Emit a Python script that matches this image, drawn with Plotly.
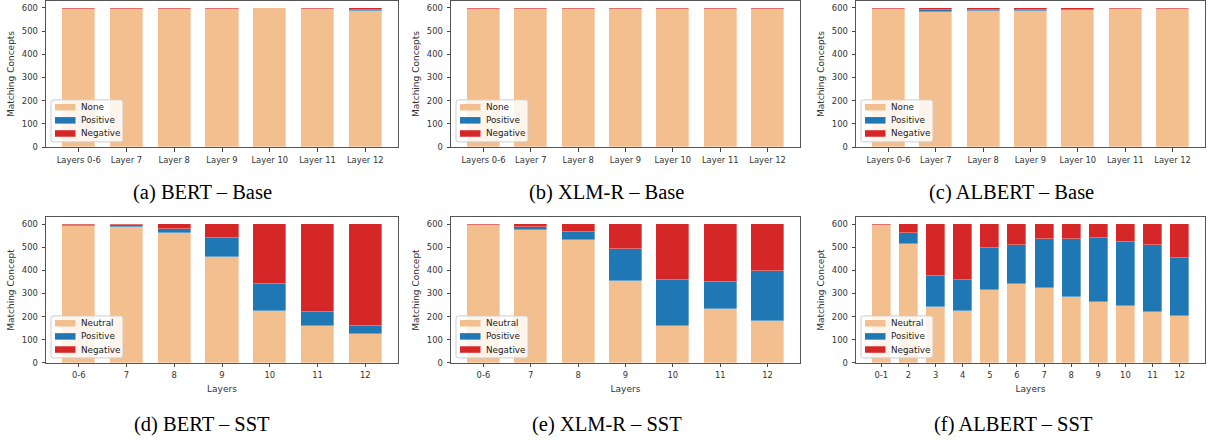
import plotly.graph_objects as go

# ---------------- data ----------------
base_layers = ["Layers 0-6", "Layer 7", "Layer 8", "Layer 9", "Layer 10", "Layer 11", "Layer 12"]
sst_layers_bx = ["0-6", "7", "8", "9", "10", "11", "12"]
sst_layers_albert = ["0-1", "2", "3", "4", "5", "6", "7", "8", "9", "10", "11", "12"]

bert_base_none = [594, 597, 597, 597, 600, 594, 589]
bert_base_pos = [3, 0, 0, 0, 0, 3, 3]
bert_base_neg = [3, 3, 3, 3, 0, 3, 8]

xlmr_base_none = [594, 597, 597, 597, 597, 597, 594]
xlmr_base_pos = [3, 0, 0, 0, 0, 0, 3]
xlmr_base_neg = [3, 3, 3, 3, 3, 3, 3]

albert_base_none = [597, 583, 586, 586, 590, 595, 594]
albert_base_pos = [0, 8, 6, 4, 3, 2, 3]
albert_base_neg = [3, 9, 8, 10, 7, 3, 3]

bert_sst_neu = [593, 586, 559, 455, 222, 158, 124]
bert_sst_pos = [4, 8, 21, 84, 117, 59, 36]
bert_sst_neg = [3, 6, 20, 61, 261, 383, 440]

xlmr_sst_neu = [597, 574, 532, 355, 158, 231, 181]
xlmr_sst_pos = [0, 12, 34, 138, 198, 120, 217]
xlmr_sst_neg = [3, 14, 34, 107, 244, 249, 202]

albert_sst_neu = [597, 512, 239, 224, 316, 339, 321, 285, 262, 244, 217, 201]
albert_sst_pos = [0, 47, 136, 132, 180, 170, 215, 251, 277, 280, 292, 252]
albert_sst_neg = [3, 41, 225, 244, 104, 91, 64, 64, 61, 76, 91, 147]

captions = ["(a) BERT – Base", "(b) XLM-R – Base", "(c) ALBERT – Base",
            "(d) BERT – SST", "(e) XLM-R – SST", "(f) ALBERT – SST"]

# ---------------- styling ----------------
C_NONE = "#f4bf8f"
C_POS = "#1f77b4"
C_NEG = "#d62728"
W, H = 1210, 446

col_x = [(46, 398), (451, 800), (856, 1205)]
row_y = [(1.0, 148.7), (219.7, 367.0)]  # top px, bottom px
legend_px = [(51, 101), (456, 101), (861, 101), (51, 319.5), (456, 319.5), (861, 319.5)]
cap_pos = [(202, 195), (607, 195), (1012, 195), (202, 429), (607, 429), (1013, 429)]

panels = [
    (base_layers, bert_base_none, bert_base_pos, bert_base_neg, "None", "Matching Concepts", None),
    (base_layers, xlmr_base_none, xlmr_base_pos, xlmr_base_neg, "None", "Matching Concepts", None),
    (base_layers, albert_base_none, albert_base_pos, albert_base_neg, "None", "Matching Concepts", None),
    (sst_layers_bx, bert_sst_neu, bert_sst_pos, bert_sst_neg, "Neutral", "Matching Concept", "Layers"),
    (sst_layers_bx, xlmr_sst_neu, xlmr_sst_pos, xlmr_sst_neg, "Neutral", "Matching Concept", "Layers"),
    (sst_layers_albert, albert_sst_neu, albert_sst_pos, albert_sst_neg, "Neutral", "Matching Concept", "Layers"),
]

def px_x(v):
    return v / W

def px_y(v):
    return 1 - v / H

fig = go.Figure()
layout = {}
shapes = []
annotations = []
tick_font = dict(family="DejaVu Sans", size=8.4, color="#333333")
title_font = dict(family="DejaVu Sans", size=9, color="#333333")
leg_font = dict(family="DejaVu Sans", size=8.8, color="#222222")

for i, (cats, a, b, c, name0, ytitle, xtitle) in enumerate(panels):
    r, col = divmod(i, 3)
    idx = "" if i == 0 else str(i + 1)
    xa, ya = "x" + idx, "y" + idx
    n = len(cats)
    xs = list(range(n))
    edge = dict(color="rgba(255,255,255,0.55)", width=0.6)
    series = [(a, name0, C_NONE), (b, "Positive", C_POS), (c, "Negative", C_NEG)]
    for vals, nm, colr in series:
        fig.add_trace(go.Bar(x=xs, y=vals, name=nm, marker=dict(color=colr, line=edge),
                             width=0.7, xaxis=xa, yaxis=ya, showlegend=False))
    x0, x1 = col_x[col]
    yt, yb = row_y[r]
    margin = 0.05 * (n - 1 + 0.7)
    layout["xaxis" + idx] = dict(
        domain=[x0 / W, x1 / W], anchor=ya, range=[-0.35 - margin, n - 1 + 0.35 + margin],
        tickmode="array", tickvals=xs, ticktext=cats, ticks="outside", ticklen=3.5,
        tickcolor="#444", tickfont=tick_font, showgrid=False, zeroline=False,
        showline=True, linecolor="#555", linewidth=1, mirror=True, ticklabelstandoff=1,
        title=dict(text=xtitle, font=title_font, standoff=6) if xtitle else None,
    )
    layout["yaxis" + idx] = dict(
        domain=[1 - yb / H, 1 - yt / H], anchor=xa, range=[0, 630],
        tickmode="array", tickvals=[0, 100, 200, 300, 400, 500, 600], ticks="outside", ticklen=3.5,
        tickcolor="#444", tickfont=tick_font, showgrid=False, zeroline=False,
        showline=True, linecolor="#555", linewidth=1, mirror=True, ticklabelstandoff=2,
        title=dict(text=ytitle, font=title_font, standoff=5),
    )

    # legend (matplotlib style: rounded white box, wide swatches)
    L, T = legend_px[i]
    bw, bh, rr = 72, 42.5, 2.5
    path = (f"M {px_x(L + rr)},{px_y(T)} L {px_x(L + bw - rr)},{px_y(T)} "
            f"Q {px_x(L + bw)},{px_y(T)} {px_x(L + bw)},{px_y(T + rr)} "
            f"L {px_x(L + bw)},{px_y(T + bh - rr)} "
            f"Q {px_x(L + bw)},{px_y(T + bh)} {px_x(L + bw - rr)},{px_y(T + bh)} "
            f"L {px_x(L + rr)},{px_y(T + bh)} "
            f"Q {px_x(L)},{px_y(T + bh)} {px_x(L)},{px_y(T + bh - rr)} "
            f"L {px_x(L)},{px_y(T + rr)} Q {px_x(L)},{px_y(T)} {px_x(L + rr)},{px_y(T)} Z")
    shapes.append(dict(type="path", path=path, xref="paper", yref="paper",
                       fillcolor="rgba(255,255,255,0.82)", line=dict(color="#cccccc", width=1),
                       layer="above"))
    for k, (_, nm, colr) in enumerate(series):
        cy = T + 7.4 + k * 13.3
        shapes.append(dict(type="rect", xref="paper", yref="paper",
                           x0=px_x(L + 4), x1=px_x(L + 24.5),
                           y0=px_y(cy + 3.3), y1=px_y(cy - 3.3),
                           fillcolor=colr, line=dict(width=0), layer="above"))
        annotations.append(dict(text=nm, x=px_x(L + 28), y=px_y(cy), xref="paper", yref="paper",
                                showarrow=False, xanchor="left", yanchor="middle",
                                font=leg_font))

for txt, (cx, cy) in zip(captions, cap_pos):
    annotations.append(dict(text=txt, x=cx / W, y=1 - cy / H, xref="paper", yref="paper",
                            showarrow=False, xanchor="center", yanchor="middle",
                            font=dict(family="Liberation Serif", size=20.5, color="#000")))

fig.update_layout(
    width=W, height=H, margin=dict(l=0, r=0, t=0, b=0),
    barmode="stack", bargap=0, plot_bgcolor="white", paper_bgcolor="white",
    showlegend=False, annotations=annotations, shapes=shapes, **layout,
)

fig.write_html("out.html")
